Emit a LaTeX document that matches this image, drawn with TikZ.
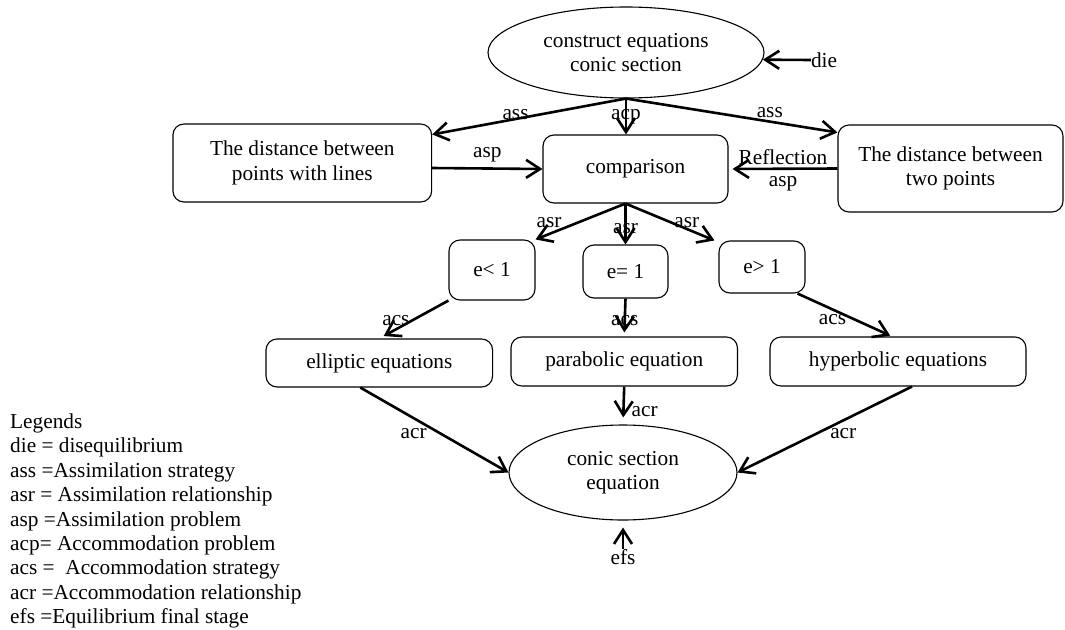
\documentclass[tikz,border=0pt]{standalone}
\usepackage{fontspec}
\setmainfont{Liberation Serif}
\usetikzlibrary{positioning}
\usetikzlibrary{arrows.meta}
\usetikzlibrary{shapes.geometric}

\begin{document}
\begin{tikzpicture}[x=1pt, y=-1pt,
    font=\fontsize{21.3}{24.4}\selectfont,
    stageBox/.style={draw, line width=1.1pt, rounded corners=11pt, align=center, inner sep=0pt},
    stageOval/.style={draw, ellipse, line width=1.1pt, align=center, inner sep=0pt},
    flowArrow/.style={line width=2.6pt, -{Straight Barb[length=14pt,width=18pt,line width=2.6pt]}},
    tagText/.style={inner sep=0pt}]

    \useasboundingbox (0,0) rectangle (1065,629);

    % ovals
    \node [stageOval, minimum width=276pt, minimum height=91pt] (construct) at (626, 52.5) {construct equations\\conic section};
    \node [stageOval, minimum width=228pt, minimum height=95pt] (conic) at (623, 472.5) {conic section\\equation};

    % boxes
    \node [stageBox, minimum width=258.7pt, minimum height=78pt] (distL) at (302.3, 163) {The distance between\\points with lines};
    \node [stageBox, minimum width=185pt, minimum height=68pt] (comp) at (635.5, 169) {comparison};
    \node [stageBox, minimum width=225pt, minimum height=87pt] (distR) at (950.5, 168.5) {The distance between\\two points};

    \node [stageBox, minimum width=86pt, minimum height=60pt] (eLess) at (492, 270) {e< 1};
    \node [stageBox, minimum width=85pt, minimum height=53pt] (eEqual) at (625.5, 271.5) {e= 1};
    \node [stageBox, minimum width=86pt, minimum height=52pt] (eGreater) at (762, 267) {e> 1};

    \node [stageBox, minimum width=226.6pt, minimum height=48pt] (elliptic) at (379.3, 363) {elliptic equations};
    \node [stageBox, minimum width=226.5pt, minimum height=49pt] (parabolic) at (624.2, 361.5) {parabolic equation};
    \node [stageBox, minimum width=256pt, minimum height=49pt] (hyperbolic) at (898, 361.5) {hyperbolic equations};

    \node [tagText] (die) at (824, 60) {die};
    \node [tagText] (efs) at (623, 557) {efs};

    % top level
    \draw [flowArrow] (die.west) -- (construct.-3);
    \draw [flowArrow] (construct.south) -- ([yshift=-11pt]distL.north east)
        node [tagText, pos=0.57, yshift=4pt] {ass};
    \draw [flowArrow] (construct.south) -- ([yshift=-8pt]distR.north west)
        node [tagText, pos=0.68, yshift=9pt] {ass};
    \draw [flowArrow] (construct.south) -- (construct.south |- comp.north)
        node [tagText, midway] {acp};
    \draw [flowArrow] ([yshift=-5pt]distL.east) -- (comp.west)
        node [tagText, midway, above=5pt] {asp};
    \draw [flowArrow, shorten >=4pt] (distR.west) -- (comp.east)
        node [tagText, midway, above=3pt] {Reflection}
        node [tagText, midway, below=6pt] {asp};

    % comparison to e
    \draw [flowArrow] (comp.south -| eEqual.north) -- (eLess.north east)
        node [tagText, pos=0.85, yshift=11pt] {asr};
    \draw [flowArrow] (comp.south -| eEqual.north) -- (eEqual.north)
        node [tagText, pos=0.6] {asr};
    \draw [flowArrow] (comp.south -| eEqual.north) -- ([xshift=-4pt]eGreater.north west)
        node [tagText, pos=0.69, yshift=6pt] {asr};

    % e to equations
    \draw [flowArrow, shorten >=5pt] (eLess.south west) -- (elliptic.north)
        node [tagText, pos=0.76, yshift=9pt] {acs};
    \draw [flowArrow, shorten >=4pt] (eEqual.south) -- (parabolic.north)
        node [tagText, pos=0.57] {acs};
    \draw [flowArrow, shorten >=2pt] ([xshift=-8pt]eGreater.south east) -- ([xshift=-6pt]hyperbolic.north)
        node [tagText, pos=0.37, yshift=-10pt] {acs};

    % equations to conic section
    \draw [flowArrow] ([xshift=-19pt]elliptic.south) -- (conic.west)
        node [tagText, pos=0.36, yshift=-15pt] {acr};
    \draw [flowArrow, shorten >=7pt] (parabolic.south) -- (conic.north)
        node [tagText, pos=0.67, right=7pt] {acr};
    \draw [flowArrow] ([xshift=14pt]hyperbolic.south) -- (conic.east)
        node [tagText, pos=0.394, yshift=-13pt] {acr};
    \draw [flowArrow, shorten >=7pt] (efs.north) -- (conic.south);

    % legend
    \foreach \entry [count=\i from 0] in {Legends, die = disequilibrium, ass =Assimilation strategy,
        asr = Assimilation relationship, asp =Assimilation problem, acp= Accommodation problem,
        acs = \ Accommodation strategy, acr =Accommodation relationship, efs =Equilibrium final stage} {
        \node [tagText, anchor=base west] (legend-\i) at (10, {428.5+24.4*\i}) {\entry};
    }

\end{tikzpicture}
\end{document}
